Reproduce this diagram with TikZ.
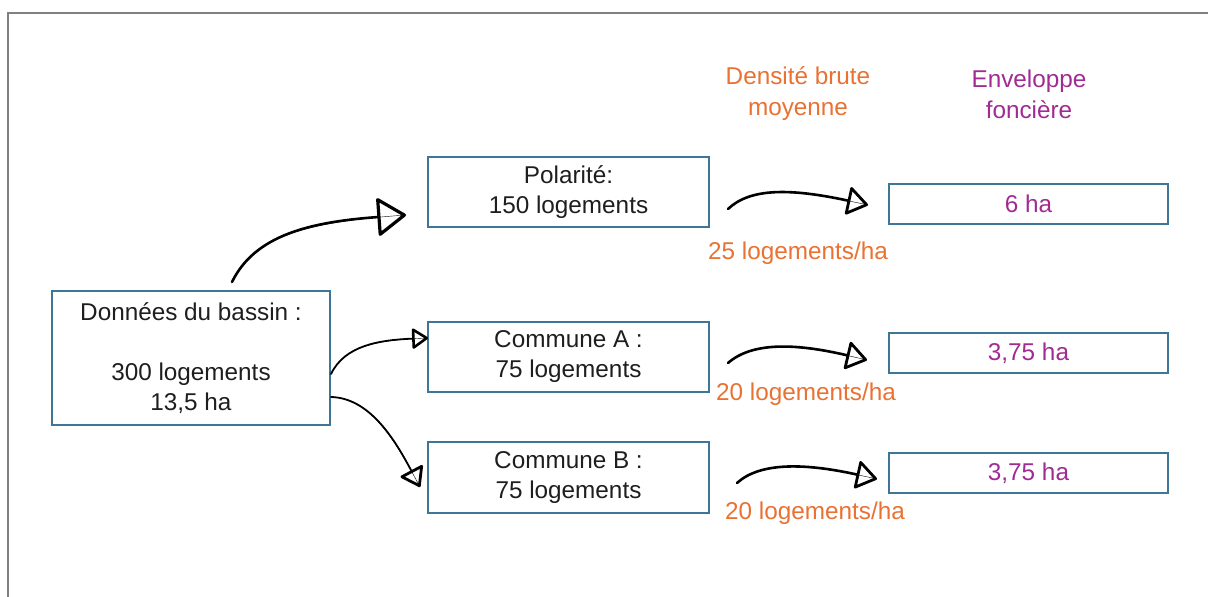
\documentclass[tikz,border=0pt]{standalone}
\usepackage{fontspec}
\setmainfont{Liberation Sans}
\usetikzlibrary{arrows.meta}
\definecolor{boxblue}{RGB}{62,118,152}
\definecolor{orng}{RGB}{233,113,50}
\definecolor{purp}{RGB}{160,43,147}
\definecolor{txt}{RGB}{30,30,30}
\definecolor{frame}{RGB}{128,128,128}
\newcommand\fsz{\fontsize{24.3}{30}\selectfont}
\newcommand\fszh{\fontsize{24.3}{31}\selectfont}
\begin{document}
\begin{tikzpicture}[x=1pt,y=-1pt,
  box/.style={draw=boxblue, line width=1.6pt, inner sep=0pt, align=center, font=\fsz, text=txt},
  bigbox/.style={box, minimum width=281pt, minimum height=70pt},
  resbox/.style={box, minimum width=279pt, minimum height=40pt, text=purp},
  dens/.style={font=\fsz, text=orng, inner sep=0pt},
  head/.style={font=\fszh, align=center, inner sep=0pt},
  sketch/.style={draw=black, line width=2.6pt, line cap=round, preaction={draw, -, shorten >=3pt}},
  thin/.style={draw=black, line width=1.8pt, line cap=round, preaction={draw, -, shorten >=3pt}}
]
\useasboundingbox (0,0) rectangle (1208,597);
\draw[frame, line width=2pt] (1208,13) -- (8,13) -- (8,597);

\node[box, minimum width=278pt, minimum height=134pt] (don) at (191,358)
  {Données du bassin :\\[30pt]300 logements\\13,5 ha};
\node[bigbox] (pol) at (568.5,192) {Polarité:\\150 logements};
\node[bigbox] (ca) at (568.5,357) {Commune A :\\75 logements};
\node[bigbox, minimum height=71pt] (cb) at (568.5,477.5) {Commune B :\\75 logements};

\node[resbox] (e1) at (1028.5,204) {6 ha};
\node[resbox] (e2) at (1028.5,353) {3,75 ha};
\node[resbox] (e3) at (1028.5,473) {3,75 ha};

\node[head, text=orng] (hd) at (798,94) {Densité brute\\moyenne};
\node[head, text=purp] (he) at (1029,94) {Enveloppe\\foncière};

\node[dens] (d1) at (798,253) {25 logements/ha};
\node[dens] (d2) at (806,394) {20 logements/ha};
\node[dens] (d3) at (815,513) {20 logements/ha};

\coordinate (s1) at (232,282);
\coordinate (t1) at (406,215);
\coordinate (s2) at (331,374);
\coordinate (t2) at (428,338);
\coordinate (s3) at (331,397);
\coordinate (t3) at (420,487);
\coordinate (s4) at (728,209);
\coordinate (t4) at (868,205);
\coordinate (s5) at (728,363);
\coordinate (t5) at (867,360);
\coordinate (s6) at (737,483);
\coordinate (t6) at (877,479);

\draw[sketch, -{Triangle[open, round, length=30pt, width=40pt, line width=3.2pt]}]
  (s1) .. controls (255,235) and (310,222) .. (t1);
\draw[thin, -{Triangle[open, round, length=17pt, width=22pt, line width=2.6pt]}]
  (s2) .. controls (345,345) and (380,340) .. (t2);
\draw[thin, -{Triangle[open, round, length=20pt, width=27pt, line width=2.8pt]}]
  (s3) .. controls (370,398) and (395,440) .. (t3);
\draw[sketch, -{Triangle[open, round, length=22pt, width=30pt, line width=2.8pt]}]
  (s4) .. controls (750,188) and (790,188) .. (t4);
\draw[sketch, -{Triangle[open, round, length=22pt, width=30pt, line width=2.8pt]}]
  (s5) .. controls (752,342) and (795,343) .. (t5);
\draw[sketch, -{Triangle[open, round, length=22pt, width=30pt, line width=2.8pt]}]
  (s6) .. controls (760,462) and (805,463) .. (t6);
\end{tikzpicture}
\end{document}
